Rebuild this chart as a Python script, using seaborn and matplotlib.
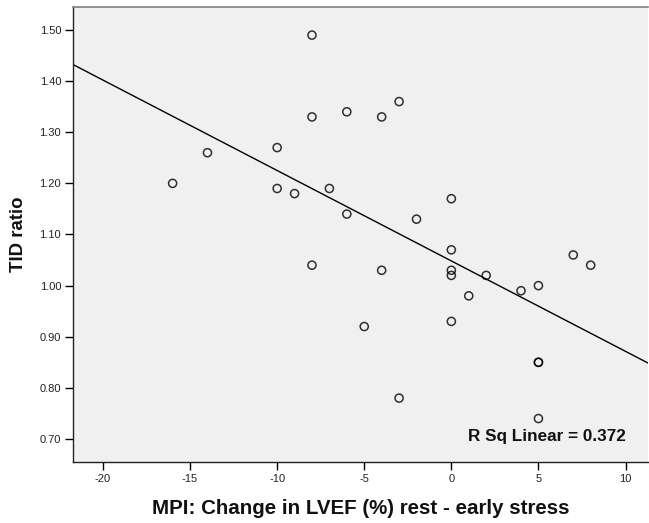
import matplotlib
matplotlib.use("Agg")
import matplotlib.pyplot as plt
import seaborn as sns
import numpy as np
import pandas as pd

# Data
lvef_change = [-16, -14, -10, -10, -9, -8, -8, -8, -7, -6, -6, -5, -4, -4, -3, -3,
               -2, 0, 0, 0, 0, 0, 1, 2, 4, 5, 5, 5, 5, 7, 8]
tid_ratio = [1.20, 1.26, 1.27, 1.19, 1.18, 1.49, 1.33, 1.04, 1.19, 1.34, 1.14, 0.92,
             1.33, 1.03, 1.36, 0.78, 1.13, 1.17, 1.07, 1.03, 1.02, 0.93, 0.98, 1.02,
             0.99, 1.00, 0.85, 0.85, 0.74, 1.06, 1.04]
x_ticks = [-20, -15, -10, -5, 0, 5, 10]
y_ticks = [0.70, 0.80, 0.90, 1.00, 1.10, 1.20, 1.30, 1.40, 1.50]
x_label = "MPI: Change in LVEF (%) rest - early stress"
y_label = "TID ratio"
r2_text = "R Sq Linear = 0.372"

df = pd.DataFrame({"x": lvef_change, "y": tid_ratio})

sns.set_theme(style="white")
plt.rcParams["font.family"] = ["Liberation Sans", "DejaVu Sans"]

fig = plt.figure(figsize=(6.49, 5.23), dpi=100)
ax = fig.add_axes([73 / 649, 1 - 462 / 523, (648 - 73) / 649, (462 - 7) / 523])
ax.set_facecolor("#F0F0F0")

ax.set_xlim(-21.72, 11.29)
ax.set_ylim(0.655, 1.545)

sns.regplot(data=df, x="x", y="y", ax=ax, ci=None, truncate=False,
            scatter_kws=dict(s=34, facecolors="none", edgecolors="black", linewidths=1.1),
            line_kws=dict(color="black", linewidth=1.0))

ax.set_xlim(-21.72, 11.29)
ax.set_ylim(0.655, 1.545)
ax.set_xticks(x_ticks)
ax.set_xticklabels([str(t) for t in x_ticks])
ax.set_yticks(y_ticks)
ax.set_yticklabels([f"{t:.2f}" for t in y_ticks])
ax.tick_params(axis="both", direction="out", length=5.5, width=1, color="black",
               labelsize=8, pad=3, labelcolor="#222222")
ax.tick_params(axis="x", bottom=True)
ax.tick_params(axis="y", left=True)

for s in ["left", "bottom"]:
    ax.spines[s].set_color("#222222")
    ax.spines[s].set_linewidth(1.0)
ax.spines["top"].set_color("#808080")
ax.spines["top"].set_linewidth(1.2)
ax.spines["right"].set_visible(False)

ax.set_xlabel(x_label, fontsize=14.8, fontweight="bold", color="#111111")
ax.set_ylabel(y_label, fontsize=13.4, fontweight="bold", color="#111111")
ax.xaxis.set_label_coords(0.5, -0.082)
ax.yaxis.set_label_coords(-0.080, 0.5)

ax.text(0.962, 0.055, r2_text, transform=ax.transAxes, ha="right", va="center",
        fontsize=12.3, fontweight="bold", color="#111111")

fig.savefig("out.png", dpi=100)
